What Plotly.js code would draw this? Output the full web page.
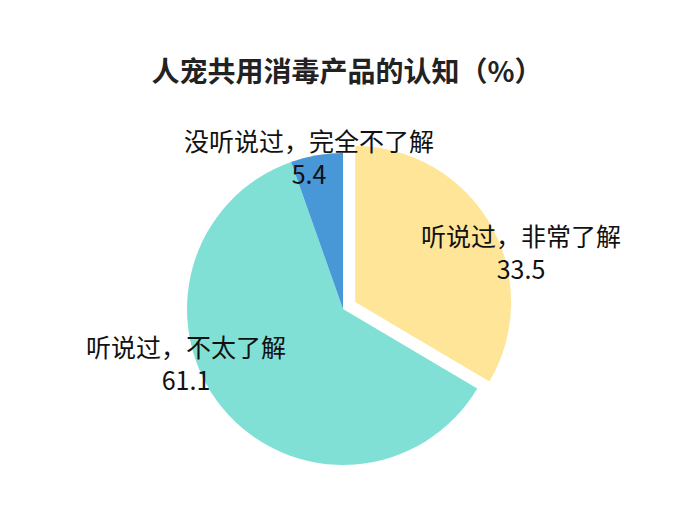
<!DOCTYPE html>
<html>
<head>
<meta charset="utf-8">
<script src="https://cdn.plot.ly/plotly-3.0.1.min.js"></script>
<style>
  html, body { margin: 0; padding: 0; background: #fff; }
  #chart { width: 690px; height: 518px; }
</style>
</head>
<body>
<div id="chart"></div>
<script>
// awareness of pet-human shared disinfection products (%)
const labels = ["听说过，非常了解", "听说过，不太了解", "没听说过，完全不了解"];
const values = [33.5, 61.1, 5.4];
const colors = ["#FFE597", "#80E0D6", "#4898D8"];
const pulls = [0.09, 0, 0];

// where each slice's label sits (paper px, from top-left)
const labelPos = [[521, 251], [186, 362], [309, 157]];

const W = 690, H = 518;
const labelFont = { family: "Noto Sans CJK SC, sans-serif", size: 25, color: "#111" };

const trace = {
  type: "pie",
  labels: labels,
  values: values,
  sort: false,
  direction: "clockwise",
  rotation: 0,
  pull: pulls,
  marker: { colors: colors, line: { width: 0 } },
  textinfo: "none",
  hoverinfo: "label+value",
  domain: { x: [0.2507, 0.7435], y: [0.0753, 0.7317] },
  showlegend: false,
};

const annotations = labels.map((lab, i) => ({
  text: lab + "<br>" + values[i].toFixed(1),
  x: labelPos[i][0] / W,
  y: 1 - labelPos[i][1] / H,
  xref: "paper",
  yref: "paper",
  xanchor: "center",
  yanchor: "middle",
  showarrow: false,
  align: "center",
  font: labelFont,
}));

const layout = {
  width: W,
  height: H,
  paper_bgcolor: "#fff",
  margin: { l: 0, r: 0, t: 0, b: 0 },
  title: {
    text: "<b>人宠共用消毒产品的认知（%）</b>",
    x: 347 / W,
    xanchor: "center",
    y: 1 - 72 / H,
    yanchor: "middle",
    font: { family: "Noto Sans CJK SC, sans-serif", size: 28, color: "#222" },
  },
  annotations: annotations,
};

Plotly.newPlot("chart", [trace], layout, { displayModeBar: false });
</script>
</body>
</html>
